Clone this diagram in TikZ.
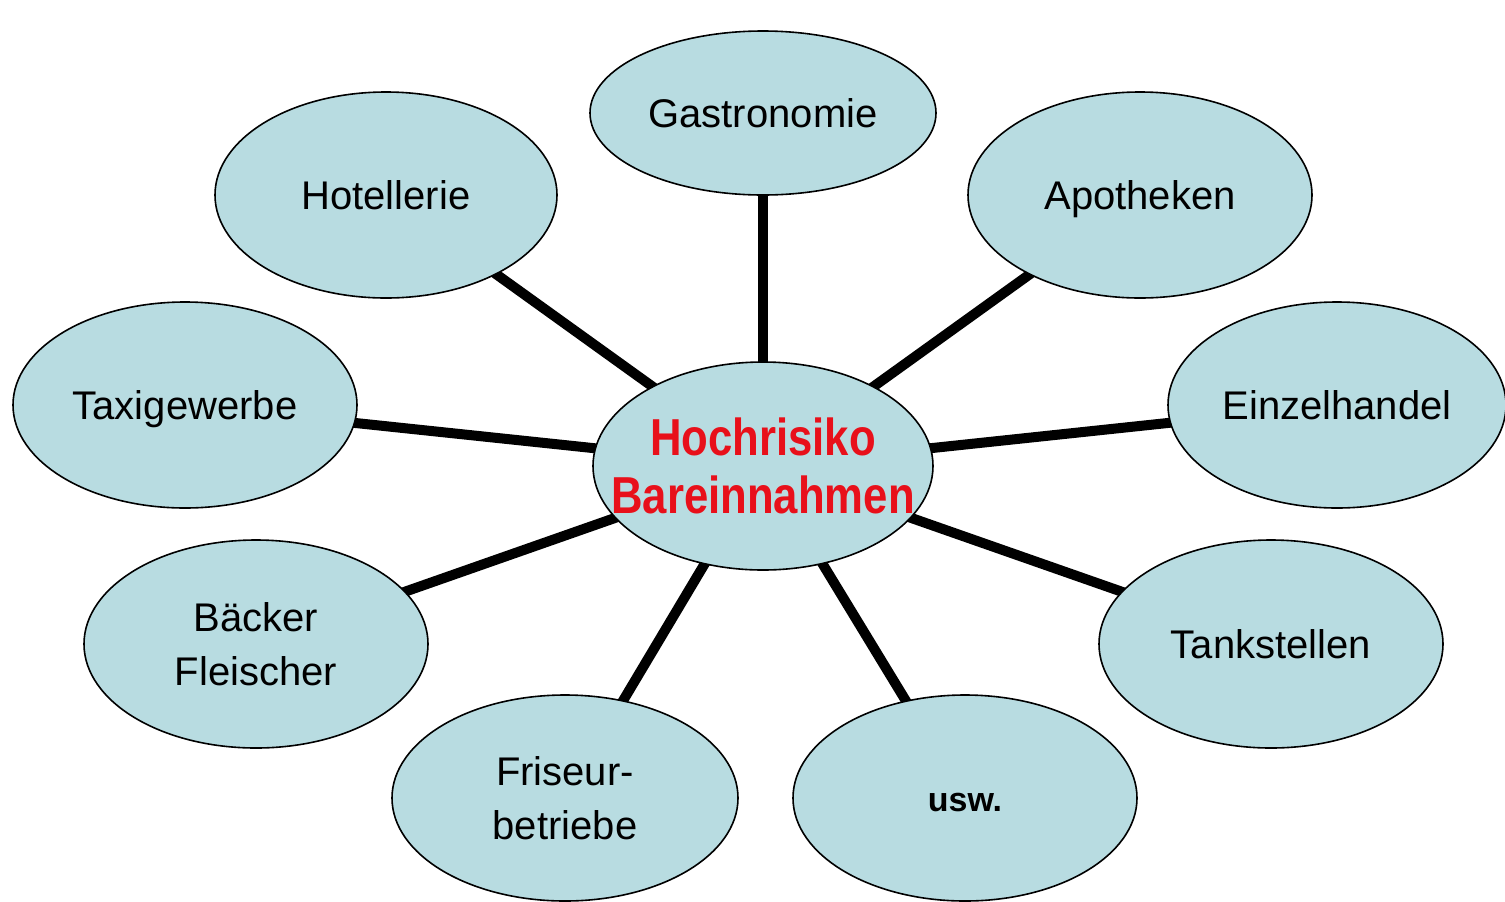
\documentclass[tikz,border=0pt]{standalone}
\usepackage{fontspec}
\setmainfont{Liberation Sans}
\usetikzlibrary{shapes.geometric,backgrounds}
\definecolor{bubble}{RGB}{184,220,225}
\definecolor{hot}{RGB}{232,16,26}
\newcommand{\narrowline}[1]{\makebox[0pt]{\scalebox{0.84}[1]{#1}}}
\begin{document}
\begin{tikzpicture}[x=0.5pt,y=-0.5pt,
  bub/.style={ellipse,draw=black,line width=0.8pt,fill=bubble,inner sep=0pt,
    align=center,font=\fontsize{20}{27}\selectfont},
  one/.style={text depth=0pt},
  spoke/.style={line width=5pt,draw=black}]
\useasboundingbox (0,0) rectangle (1505,901);
\node[bub,one,minimum width=173pt,minimum height=82pt] (gastro) at (763,113) {Gastronomie};
\node[bub,one,minimum width=171pt,minimum height=103pt] (hotel) at (386,195) {Hotellerie};
\node[bub,one,minimum width=172pt,minimum height=103pt] (apo) at (1140,195) {Apotheken};
\node[bub,one,minimum width=172pt,minimum height=103pt] (taxi) at (185,405) {Taxigewerbe};
\node[bub,one,minimum width=169pt,minimum height=103pt] (einzel) at (1337,405) {Einzelhandel};
\node[bub,minimum width=170pt,minimum height=104pt,text=hot,
  font=\fontsize{26}{29}\selectfont\bfseries] (center) at (763,466)
  {\narrowline{Hochrisiko}\\\narrowline{Bareinnahmen}};
\node[bub,minimum width=172pt,minimum height=104pt] (baecker) at (256,644) {Bäcker\\Fleischer};
\node[bub,one,minimum width=172pt,minimum height=104pt] (tank) at (1271,644) {Tankstellen};
\node[bub,minimum width=173pt,minimum height=103pt] (friseur) at (565,798) {Friseur-\\betriebe};
\node[bub,one,minimum width=172pt,minimum height=103pt,font=\fontsize{17}{22}\selectfont\bfseries] (usw) at (965,798) {\raisebox{-4pt}{usw.}};
\begin{pgfonlayer}{background}
\foreach \n in {gastro,hotel,apo,taxi,einzel,baecker,tank,friseur,usw}
  \draw[spoke] (center.center) -- (\n.center);
\end{pgfonlayer}
\end{tikzpicture}
\end{document}
